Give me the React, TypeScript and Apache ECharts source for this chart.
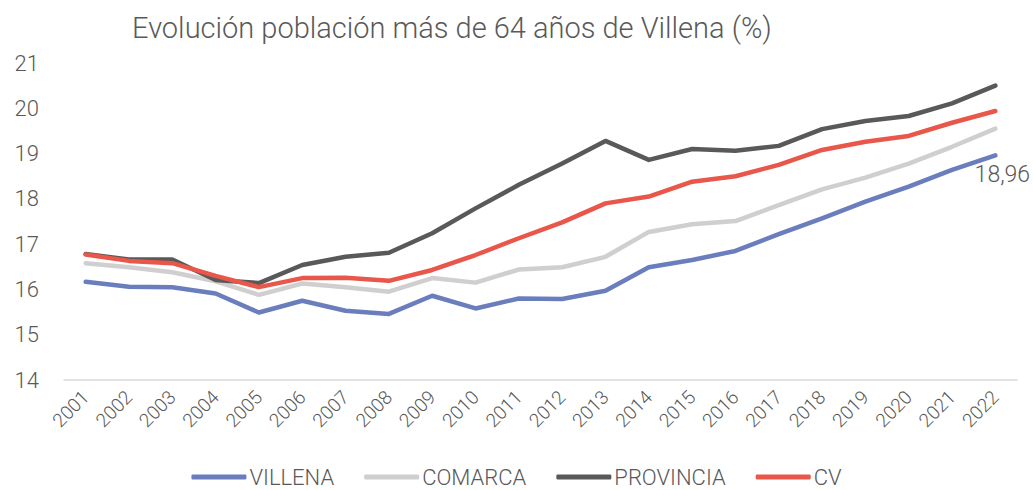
import React, { useEffect, useRef } from "react";
import * as echarts from "echarts";

const years = ["2001","2002","2003","2004","2005","2006","2007","2008","2009","2010","2011","2012","2013","2014","2015","2016","2017","2018","2019","2020","2021","2022"];
const villena = [16.17,16.06,16.05,15.91,15.49,15.75,15.53,15.46,15.86,15.58,15.80,15.79,15.97,16.49,16.65,16.85,17.22,17.57,17.94,18.27,18.64,18.96];
const comarca = [16.58,16.49,16.38,16.18,15.88,16.13,16.05,15.95,16.25,16.15,16.44,16.49,16.72,17.27,17.44,17.51,17.86,18.21,18.47,18.78,19.15,19.55];
const provincia = [16.78,16.66,16.66,16.21,16.14,16.54,16.72,16.81,17.24,17.79,18.31,18.78,19.28,18.86,19.10,19.06,19.17,19.54,19.72,19.83,20.11,20.50];
const cv = [16.77,16.63,16.58,16.30,16.05,16.25,16.26,16.19,16.43,16.76,17.13,17.48,17.90,18.05,18.38,18.50,18.75,19.08,19.26,19.39,19.68,19.94];
const title = "Evolución población más de 64 años de Villena (%)";
const seriesNames = ["VILLENA", "COMARCA", "PROVINCIA", "CV"];
const colors = ["#6A7EBD", "#D0CECE", "#595959", "#E8574A"];

export default function App() {
  const ref = useRef<HTMLDivElement>(null);
  useEffect(() => {
    if (!ref.current) return;
    const chart = echarts.init(ref.current, null, { renderer: "svg" });
    const font = "Roboto";
    const txt = "#595959";
    const data = [villena, comarca, provincia, cv];
    chart.setOption({
      animation: false,
      textStyle: { fontFamily: font },
      title: {
        text: title,
        left: 127,
        top: 8,
        textStyle: { fontFamily: font, fontSize: 29, fontWeight: 300, color: txt },
      },
      grid: { left: 64, right: 16, top: 63, bottom: 110, containLabel: false },
      legend: {
        top: 466,
        left: "center",
        padding: 0,
        icon: "roundRect",
        itemWidth: 55,
        itemHeight: 5,
        itemGap: 30,
        textStyle: { fontFamily: font, fontSize: 22, lineHeight: 22, fontWeight: 300, color: txt, padding: [0, 0, 0, -2] },
        data: seriesNames,
      },
      xAxis: {
        type: "category",
        data: years,
        boundaryGap: true,
        axisLine: { lineStyle: { color: "#D9D9D9", width: 1.5 } },
        axisTick: { show: false },
        axisLabel: { rotate: 45, fontSize: 19, fontWeight: 300, color: txt, margin: 14, interval: 0 },
      },
      yAxis: {
        type: "value",
        min: 14,
        max: 21,
        interval: 1,
        axisLine: { show: false },
        axisTick: { show: false },
        splitLine: { show: false },
        axisLabel: { fontSize: 22, fontWeight: 300, color: txt, margin: 25 },
      },
      series: seriesNames.map((name, i) => ({
        name,
        type: "line",
        data: i === 0
          ? data[i].map((v, j) => j === data[i].length - 1
              ? {
                  value: v,
                  symbol: "circle",
                  symbolSize: 1,
                  itemStyle: { color: "rgba(0,0,0,0)" },
                  label: {
                    show: true,
                    position: "bottom",
                    offset: [7, 2],
                    formatter: (p: any) => Number(p.value).toFixed(2).replace(".", ","),
                    fontFamily: font,
                    fontSize: 23,
                    fontWeight: 300,
                    color: txt,
                  },
                }
              : v)
          : data[i],
        symbol: "none",
        showSymbol: true,
        lineStyle: { color: colors[i], width: 4.5, cap: "round", join: "round" },
        itemStyle: { color: colors[i] },
        z: [1, 0, 2, 3][i],
      })),
    });
    return () => chart.dispose();
  }, []);
  return <div ref={ref} style={{ position: "absolute", left: 0, top: 0, width: 1033, height: 490 }} />;
}
